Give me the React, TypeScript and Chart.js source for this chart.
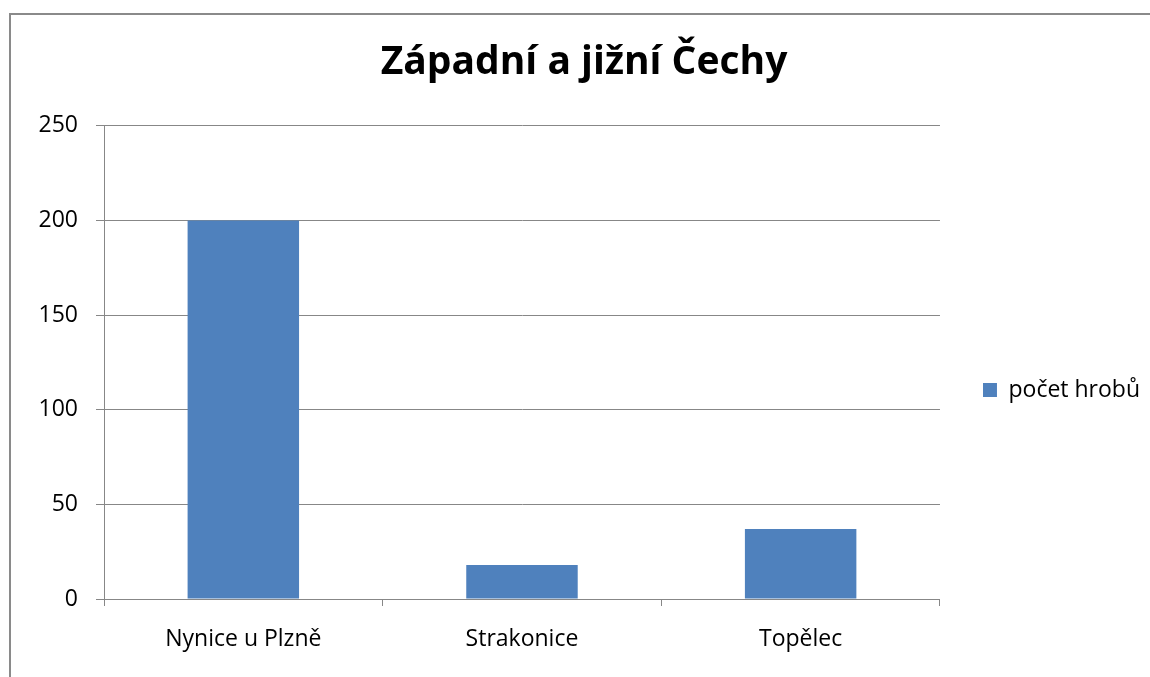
import React, { useEffect, useRef } from "react";
import { Chart, registerables } from "chart.js";

Chart.register(...registerables);

const titleText = "Západní a jižní Čechy";
const categories = ["Nynice u Plzně", "Strakonice", "Topělec"];
const seriesLabel = "počet hrobů";
const seriesValues = [200, 18, 37];
const yTicks = [0, 50, 100, 150, 200, 250];

const FONT = "'Open Sans', 'Noto Sans', sans-serif";
const GRID = "#878787";
const BAR = "#4F81BD";

const PAD_L = 18;
const PAD_R = 0;

export default function App() {
  const ref = useRef<HTMLCanvasElement | null>(null);

  useEffect(() => {
    if (!ref.current) return;
    const chart = new Chart(ref.current, {
      type: "bar",
      data: {
        labels: categories,
        datasets: [
          {
            label: seriesLabel,
            data: seriesValues,
            backgroundColor: BAR,
            borderWidth: 0,
            barPercentage: 0.4,
            categoryPercentage: 1,
          },
        ],
      },
      options: {
        responsive: false,
        animation: false,
        events: [],
        layout: { padding: { left: PAD_L, right: PAD_R, top: 0, bottom: -103 } },
        plugins: {
          title: {
            display: true,
            text: titleText,
            color: "#000",
            font: { family: FONT, size: 39, weight: "bold" },
            padding: { top: 39, bottom: 40 },
          },
          legend: {
            position: "right",
            labels: {
              boxWidth: 14,
              boxHeight: 14,
              padding: 43,
              color: "#000",
              font: { family: FONT, size: 23 },
            },
          },
          tooltip: { enabled: false },
        },
        scales: {
          x: {
            grid: {
              display: true,
              drawOnChartArea: false,
              tickLength: 7,
              color: GRID,
              offset: true,
            },
            border: { color: GRID },
            ticks: { color: "#000", padding: 20, font: { family: FONT, size: 23 } },
            afterFit: (s: any) => {
              s.height = 181;
            },
          },
          y: {
            min: yTicks[0],
            max: yTicks[yTicks.length - 1],
            afterBuildTicks: (s: any) => {
              s.ticks = yTicks.map((v) => ({ value: v }));
            },
            grid: { color: GRID, tickLength: 8 },
            border: { color: GRID },
            ticks: { color: "#000", padding: 18, font: { family: FONT, size: 23 } },
            afterFit: (s: any) => {
              s.width = 104 - PAD_L;
            },
          },
        },
      },
    });
    return () => chart.destroy();
  }, []);

  return (
    <div
      style={{
        position: "fixed",
        left: 0,
        top: 0,
        width: 1150,
        height: 677,
        overflow: "hidden",
        background: "#fff",
      }}
    >
      <div
        style={{
          position: "absolute",
          left: 9,
          top: 13,
          width: 1300,
          height: 800,
          borderLeft: "2px solid #8a8a8a",
          borderTop: "2px solid #8a8a8a",
        }}
      />
      <canvas
        ref={ref}
        width={1150}
        height={677}
        style={{ position: "absolute", left: 0, top: 0, width: 1150, height: 677 }}
      />
    </div>
  );
}
